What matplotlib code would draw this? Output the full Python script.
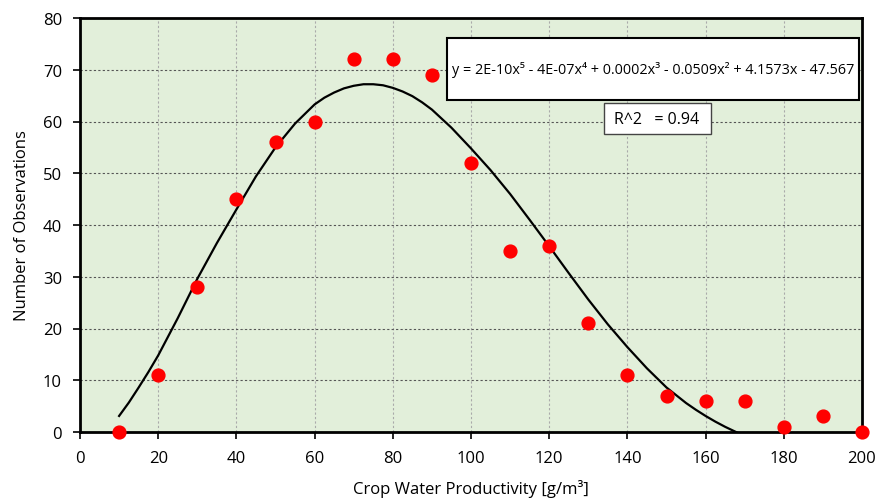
import numpy as np
import matplotlib.pyplot as plt
from matplotlib.patches import Rectangle

plt.rcParams['font.family'] = ['Open Sans', 'DejaVu Sans']

# observations per productivity class
productivity = [10, 20, 30, 40, 50, 60, 70, 80, 90, 100,
                110, 120, 130, 140, 150, 160, 170, 180, 190, 200]
observations = [0, 11, 28, 45, 56, 60, 72, 72, 69, 52,
                35, 36, 21, 11, 7, 6, 6, 1, 3, 0]

# trendline
trend_x = [10, 12.5, 15, 17.5, 20, 25, 30, 35, 40, 45, 50, 55, 60, 62.5,
           65, 67.5, 70, 72.5, 75, 77.5, 80, 82.5, 85, 87.5, 90, 95, 100,
           105, 110, 115, 120, 125, 130, 135, 140, 145, 150, 155, 157.5,
           160, 162.5, 165, 167.5, 170]
trend_y = [3.1, 5.7, 8.6, 11.6, 14.8, 22.0, 29.6, 36.5, 43.0, 49.4, 55.0,
           59.6, 63.3, 64.6, 65.6, 66.4, 66.9, 67.2, 67.2, 67.0, 66.5, 65.8,
           64.9, 63.7, 62.3, 58.8, 54.8, 50.6, 46.0, 41.0, 35.9, 30.7, 25.6,
           20.8, 16.4, 12.3, 8.6, 5.6, 4.3, 3.1, 2.0, 1.0, 0.1, -0.8]

equation = "y = 2E-10x⁵ - 4E-07x⁴ + 0.0002x³ - 0.0509x² + 4.1573x - 47.567"
r2_text = "R^2   = 0.94"

fig = plt.figure(figsize=(8.86, 5.02), dpi=100)
ax = fig.add_axes([80 / 886, 1 - 433 / 502, 782 / 886, 414 / 502])
ax.set_facecolor("#e2efda")

ax.plot(trend_x, trend_y, color="black", lw=1.6, zorder=3,
        solid_joinstyle="round")
ax.scatter(productivity, observations, s=85, color="red", zorder=4, clip_on=False)

ax.set_xlim(0, 200)
ax.set_ylim(0, 80)
ax.set_xticks(np.arange(0, 201, 20))
ax.set_yticks(np.arange(0, 81, 10))
ax.tick_params(labelsize=12, direction="out", length=5, width=1.2, pad=8)
ax.yaxis.grid(True, linestyle=(0, (2, 2)), color="#555555", lw=0.8)
ax.xaxis.grid(True, linestyle=(0, (2, 2)), color="#aaaaaa", lw=0.8)
ax.set_axisbelow(True)
for sp in ax.spines.values():
    sp.set_linewidth(2)

ax.set_xlabel("Crop Water Productivity [g/m³]", fontsize=12, labelpad=9)
ax.set_ylabel("Number of Observations", fontsize=12, labelpad=9)

# equation and R^2 boxes
fig.patches.append(Rectangle((447 / 886, 1 - 101 / 502), 412 / 886, 62 / 502,
                             transform=fig.transFigure, facecolor="white",
                             edgecolor="black", lw=1.5, zorder=5))
fig.text(653 / 886, 1 - 70 / 502, equation, ha="center", va="center",
         fontsize=10.4, zorder=6)
fig.patches.append(Rectangle((604 / 886, 1 - 135 / 502), 107 / 886, 31 / 502,
                             transform=fig.transFigure, facecolor="white",
                             edgecolor="#444444", lw=1, zorder=5))
fig.text(657 / 886, 1 - 120 / 502, r2_text, ha="center", va="center",
         fontsize=11.5, zorder=6)

fig.savefig("out.png", dpi=100)
